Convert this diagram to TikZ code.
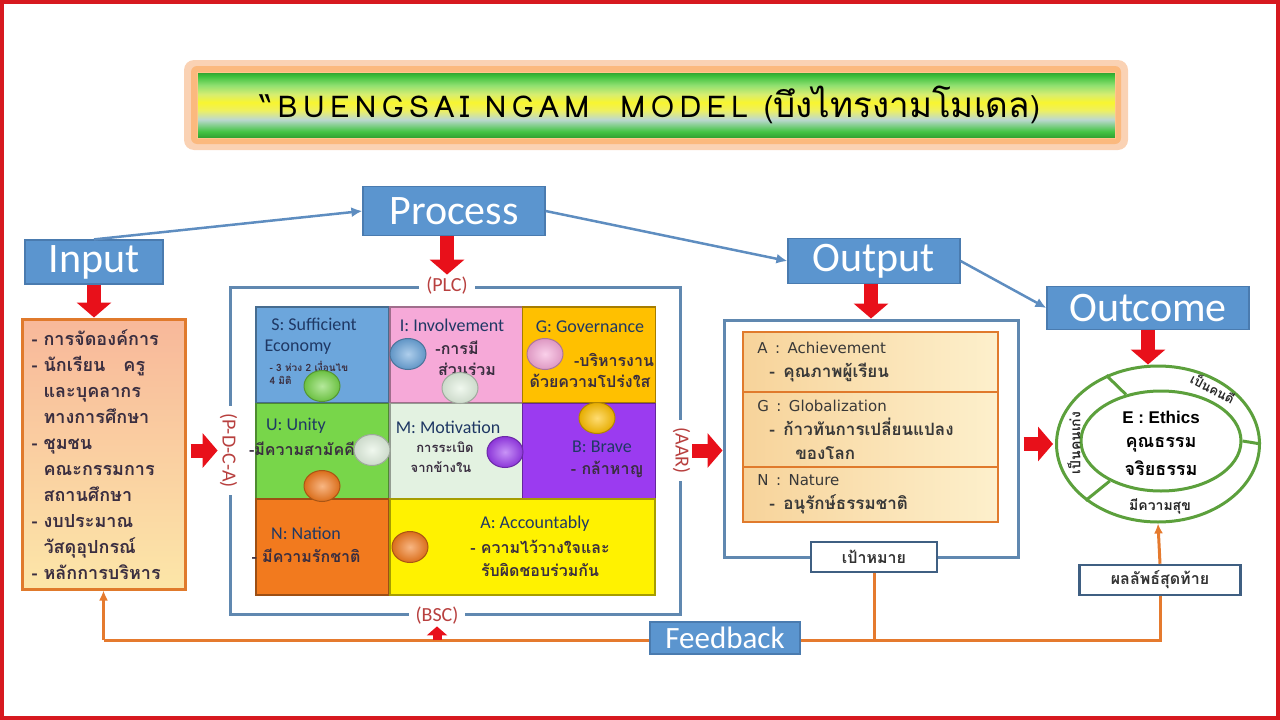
\documentclass[tikz,border=0pt]{standalone}
\usepackage{fontspec}
\usepackage{xcolor}
\usepackage{tikz}
\usetikzlibrary{arrows.meta,positioning,shapes.geometric,shadings}
\setmainfont{Carlito}
\newfontfamily\thaifont[Script=Thai]{Loma}
\newfontfamily\titlefont[LetterSpace=18]{Loma}
\newfontfamily\tahoma{DejaVu Sans}
\newfontfamily\arial{Liberation Sans}
\newcommand{\outthai}{\thaifont\bfseries\fontsize{17}{24}\selectfont}
\definecolor{borderred}{HTML}{D7191F}
\definecolor{stageblue}{HTML}{5B95CF}
\definecolor{stageedge}{HTML}{4A7BAF}
\definecolor{flowblue}{HTML}{5E8DC0}
\definecolor{frameblue}{HTML}{6088B0}
\definecolor{arrowred}{HTML}{E8101A}
\definecolor{fborange}{HTML}{E57A2E}
\definecolor{boxorange}{HTML}{E07A2C}
\definecolor{tagred}{HTML}{B8403F}
\definecolor{navyedge}{HTML}{3F5F82}
\definecolor{ringgreen}{HTML}{5CA03C}
\definecolor{textnavy}{HTML}{1F3864}
\definecolor{textdark}{HTML}{3A2E40}
\definecolor{pS}{HTML}{6CA6DC}
\definecolor{pI}{HTML}{F6A9D8}
\definecolor{pG}{HTML}{FFC000}
\definecolor{pU}{HTML}{78D64A}
\definecolor{pM}{HTML}{E3F2E1}
\definecolor{pB}{HTML}{9B3BF0}
\definecolor{pN}{HTML}{F27A1E}
\definecolor{pA}{HTML}{FFF200}
\definecolor{inTop}{HTML}{F8B89A}
\definecolor{inMid}{HTML}{F2A6D0}
\definecolor{inBot}{HTML}{FCE6A8}
\definecolor{outL}{HTML}{F7D39A}
\definecolor{outR}{HTML}{FDF0CC}
\definecolor{glow}{HTML}{FAD2B4}
\definecolor{tg1}{HTML}{2F9F2F}
\definecolor{tg2}{HTML}{44C444}
\definecolor{tg3}{HTML}{BCD8D0}
\definecolor{tg4}{HTML}{EEF060}
\definecolor{tg5}{HTML}{F8F530}
\definecolor{tg6}{HTML}{D8EE70}
\definecolor{tg7}{HTML}{90E070}
\definecolor{tg8}{HTML}{3CC03C}
\pgfdeclareverticalshading{titlebar}{100bp}{color(0bp)=(tg1); color(25bp)=(tg1);
  color(30bp)=(tg2); color(39bp)=(tg3); color(46bp)=(tg4); color(52bp)=(tg5);
  color(58bp)=(tg6); color(65bp)=(tg7); color(72bp)=(tg8); color(75bp)=(tg1); color(100bp)=(tg1)}

\begin{document}
\begin{tikzpicture}[x=1pt, y=-1pt,
  stage/.style={draw=stageedge, line width=1.2pt, fill=stageblue, text=white,
                font=\fontsize{42}{42}\selectfont, inner sep=0pt},
  frame/.style={draw=frameblue, line width=3pt, inner sep=0pt},
  tag/.style={fill=white, text=tagred, font=\fontsize{20}{20}\selectfont,
              inner xsep=7pt, inner ysep=2pt},
  piece/.style={draw=#1!65!black, line width=1.5pt, fill=#1,
                minimum width=133, minimum height=96, inner sep=0pt},
  knob/.style={ellipse, minimum width=36, minimum height=31, inner sep=0pt,
               draw=#1!70!black, line width=1pt, shading=radial,
               inner color=#1!55!white, outer color=#1!90!black},
  cellen/.style={text=textnavy, font=\fontsize{18}{18}\selectfont},
  cellth/.style={text=textdark, font=\thaifont\bfseries\fontsize{16}{16}\selectfont},
  redarrow/.style={draw=arrowred, line width=14pt, -{Triangle[width=34pt,length=15pt]}},
  flow/.style={draw=flowblue, line width=2.5pt, -{Latex[length=11pt,width=10pt]}},
  fbline/.style={draw=fborange, line width=3pt},
  fbtip/.style={-{Latex[length=10pt,width=9pt]}},
  tagbox/.style={draw=navyedge, line width=2.5pt, fill=white, inner sep=0pt,
                 text=black!80, font=\thaifont\bfseries\fontsize{16}{16}\selectfont},
  section/.style={draw=boxorange, line width=2.5pt, left color=outL, right color=outR,
                  minimum width=255, inner sep=0pt},
  outtext/.style={anchor=west, align=left, text=black!78,
                  font=\tahoma\fontsize{15}{24}\selectfont},
  ringline/.style={draw=ringgreen, line width=3pt},
  ringtext/.style={text=black!85, inner sep=0pt,
                   font=\thaifont\bfseries\fontsize{14}{14}\selectfont},
  ethictext/.style={text=black, inner sep=0pt, font=\thaifont\bfseries\fontsize{18}{18}\selectfont},
]
  \useasboundingbox (0,0) rectangle (1280,720);
  \draw[borderred, line width=4pt] (2,2) rectangle (1278,718);

  % Title banner ------------------------------------------------------------
  \fill[glow, rounded corners=10pt] (184,60) rectangle (1128,150);
  \fill[glow!70!orange, rounded corners=6pt] (191,66) rectangle (1121,144);
  \node[draw=orange!45, line width=1pt, shading=titlebar, minimum width=918,
        minimum height=66, inner sep=0pt, font=\fontsize{30}{30}\selectfont]
    (title) at (656,105)
    {{\titlefont “BUENGSAI NGAM\ \ MODEL (}{\thaifont\fontsize{35}{35}\selectfont บึงไทรงามโมเดล}{\titlefont )}\hspace*{12pt}};

  % Stage labels -------------------------------------------------------------
  \node[stage, minimum width=138, minimum height=44] (input) at (94,262) {Input};
  \node[stage, minimum width=182, minimum height=49] (process) at (454,211) {Process};
  \node[stage, minimum width=172, minimum height=45] (output) at (874,261) {Output};
  \node[stage, minimum width=202, minimum height=43] (outcome) at (1148,308) {Outcome};
  \draw[flow] (input.north) -- (process.west);
  \draw[flow] (process.east) -- (output.west);
  \draw[flow] (output.east) -- (outcome.west);

  % Input ---------------------------------------------------------------------
  \node[draw=boxorange, line width=3pt, top color=inTop, middle color=inMid,
        bottom color=inBot, minimum width=163, minimum height=270] (inbox) at (103.5,454) {};
  \node[anchor=west, align=left, text=textdark,
        font=\thaifont\bfseries\fontsize{18}{26}\selectfont] (intext) at (28,455)
    {- การจัดองค์การ\\
     - นักเรียน\quad ครู\\
     \hphantom{- }และบุคลากร\\
     \hphantom{- }ทางการศึกษา\\
     - ชุมชน\\
     \hphantom{- }คณะกรรมการ\\
     \hphantom{- }สถานศึกษา\\
     - งบประมาณ\\
     \hphantom{- }วัสดุอุปกรณ์\\
     - หลักการบริหาร};
  \draw[redarrow] (input.south) -- (input.south |- inbox.north);

  % Process: puzzle of the model ---------------------------------------------
  \node[frame, minimum width=450, minimum height=327] (pframe) at (455,450.5) {};
  \node[tag] (plc) at ([xshift=-8]pframe.north) {(PLC)};
  \node[tag] (bsc) at ([xshift=-18]pframe.south) {(BSC)};
  \node[tag, rotate=-90] (pdca) at (pframe.west) {(P-D-C-A)};
  \node[tag, rotate=-90] (aar) at (pframe.east) {(AAR)};
  \draw[redarrow] (plc.north |- process.south) -- (plc.north);
  \draw[redarrow, shorten <=4pt] (inbox.east |- pdca.south) -- (pdca.south);

  \node[piece=pS] (cS) at (322.5,355) {};
  \node[piece=pI] (cI) at (456.5,355) {};
  \node[piece=pG] (cG) at (589,355) {};
  \node[piece=pU] (cU) at (322.5,451.5) {};
  \node[piece=pM] (cM) at (456.5,451.5) {};
  \node[piece=pB] (cB) at (589,451.5) {};
  \node[piece=pN] (cN) at (322.5,547) {};
  \node[piece=pA, minimum width=265] (cA) at (522.5,547) {};

  \node[cellen] (tS1) at (314,324) {S: Sufficient};
  \node[cellen] (tS2) at (298,347) {Economy};
  \node[cellth, anchor=west, font=\thaifont\bfseries\fontsize{10}{10}\selectfont] (tS3) at (266,366) {- 3 ห่วง 2 เงื่อนไข};
  \node[cellth, anchor=west, font=\thaifont\bfseries\fontsize{10}{10}\selectfont] (tS4) at (266,380) {4 มิติ};
  \node[cellen] (tI1) at (452,325) {I: Involvement};
  \node[cellth] (tI2) at (457,348) {-การมี};
  \node[cellth] (tI3) at (467,369) {ส่วนร่วม};
  \node[cellen] (tG1) at (590,327) {G: Governance};
  \node[cellth] (tG2) at (614,360) {-บริหารงาน};
  \node[cellth] (tG3) at (590,381) {ด้วยความโปร่งใส};
  \node[cellen] (tU1) at (296,426) {U: Unity};
  \node[cellth] (tU2) at (302,449) {-มีความสามัคคี};
  \node[cellen] (tM1) at (448,427) {M: Motivation};
  \node[cellth, font=\thaifont\bfseries\fontsize{13}{13}\selectfont] (tM2) at (445,447) {การระเบิด};
  \node[cellth, font=\thaifont\bfseries\fontsize{13}{13}\selectfont] (tM3) at (441,467) {จากข้างใน};
  \node[cellen] (tB1) at (602,447) {B: Brave};
  \node[cellth] (tB2) at (607,469) {- กล้าหาญ};
  \node[cellen] (tN1) at (306,533) {N: Nation};
  \node[cellth] (tN2) at (306,556) {- มีความรักชาติ};
  \node[cellen] (tA1) at (535,524) {A: Accountably};
  \node[cellth] (tA2) at (540,547) {- ความไว้วางใจและ};
  \node[cellth] (tA3) at (540,570) {รับผิดชอบร่วมกัน};

  \node[knob=pS] (kSI) at (408,354) {};
  \node[knob=pI] (kIG) at (545,354) {};
  \node[knob=pU] (kSU) at (322,386) {};
  \node[knob=pM] (kIM) at (460,388) {};
  \node[knob=pG] (kGB) at (597,418) {};
  \node[knob=pM] (kUM) at (372,450) {};
  \node[knob=pB] (kMB) at (505,452) {};
  \node[knob=pN] (kUN) at (322,486) {};
  \node[knob=pN] (kNA) at (410,547) {};

  % Output --------------------------------------------------------------------
  \node[frame, minimum width=294, minimum height=237] (oframe) at (871,438.5) {};
  \node[tagbox, minimum width=126, minimum height=30] (goal) at (874,557) {เป้าหมาย};
  \node[section, minimum height=60] (oA) at (870.5,362) {};
  \node[section, minimum height=75] (oG) at (870.5,429.5) {};
  \node[section, minimum height=55] (oN) at (870.5,494.5) {};
  \node[outtext] (tA) at ([xshift=12]oA.west)
    {A\enspace:\enspace Achievement\\ \hspace*{12pt}{\outthai -\enspace คุณภาพผู้เรียน}};
  \node[outtext] (tG) at ([xshift=12]oG.west)
    {G\enspace:\enspace Globalization\\ \hspace*{12pt}{\outthai -\enspace ก้าวทันการเปลี่ยนแปลง}\\
     \hspace*{38pt}{\outthai ของโลก}};
  \node[outtext] (tN) at ([xshift=12]oN.west)
    {N\enspace:\enspace Nature\\ \hspace*{12pt}{\outthai -\enspace อนุรักษ์ธรรมชาติ}};
  \draw[redarrow] (oframe.north |- output.south) -- (oframe.north);
  \draw[redarrow] (aar.north) -- (aar.north -| oframe.west);

  % Outcome -------------------------------------------------------------------
  \node[ellipse, draw=ringgreen, line width=3pt, fill=white, minimum width=203,
        minimum height=156] (ring) at (1158,444) {};
  \node[ellipse, draw=ringgreen, line width=3pt, minimum width=160,
        minimum height=100] (core) at (1161,441) {};
  \node[text=black, inner sep=0pt, font=\arial\bfseries\fontsize{17}{17}\selectfont]
    (ethics) at (1161,417) {E : Ethics};
  \node[ethictext] (moral) at (1161,445) {คุณธรรม};
  \node[ethictext] (ethical) at (1161,468) {จริยธรรม};
  \draw[ringline] (core.127) -- (ring.127);
  \draw[ringline] (core.0) -- (ring.0);
  \draw[ringline] (core.218) -- (ring.218);
  \node[ringtext, font=\thaifont\bfseries\fontsize{13}{13}\selectfont, rotate=-28]
    (good) at (1213,388) {เป็นคนดี};
  \node[ringtext, rotate=90] (smart) at (1074,443) {เป็นคนเก่ง};
  \node[ringtext] (happy) at (1160,506) {มีความสุข};
  \draw[redarrow] (outcome.south) -- (outcome.south |- ring.north);
  \draw[redarrow, shorten <=4pt, shorten >=2pt] (oframe.east |- ring.west) -- (ring.west);
  \node[tagbox, minimum width=161, minimum height=30] (result) at (1160,580) {ผลลัพธ์สุดท้าย};

  % Feedback ------------------------------------------------------------------
  \coordinate (fbR) at (1160,640);
  \coordinate (fbL) at (103.5,640);
  \draw[fbline] (result.south) -- (fbR) -- (fbL);
  \draw[fbline, fbtip] (fbL) -- (inbox.south);
  \draw[fbline] (goal.south) -- (goal.south |- fbR);
  \draw[fbline, fbtip] (result.north) -- (ring.south);
  \draw[draw=arrowred, line width=9pt, -{Triangle[width=20pt,length=9pt]}]
    (bsc.south |- fbR) -- (bsc.south);
  \node[stage, minimum width=150, minimum height=32, font=\fontsize{31}{31}\selectfont]
    (feedback) at (725,638) {Feedback};
\end{tikzpicture}
\end{document}
